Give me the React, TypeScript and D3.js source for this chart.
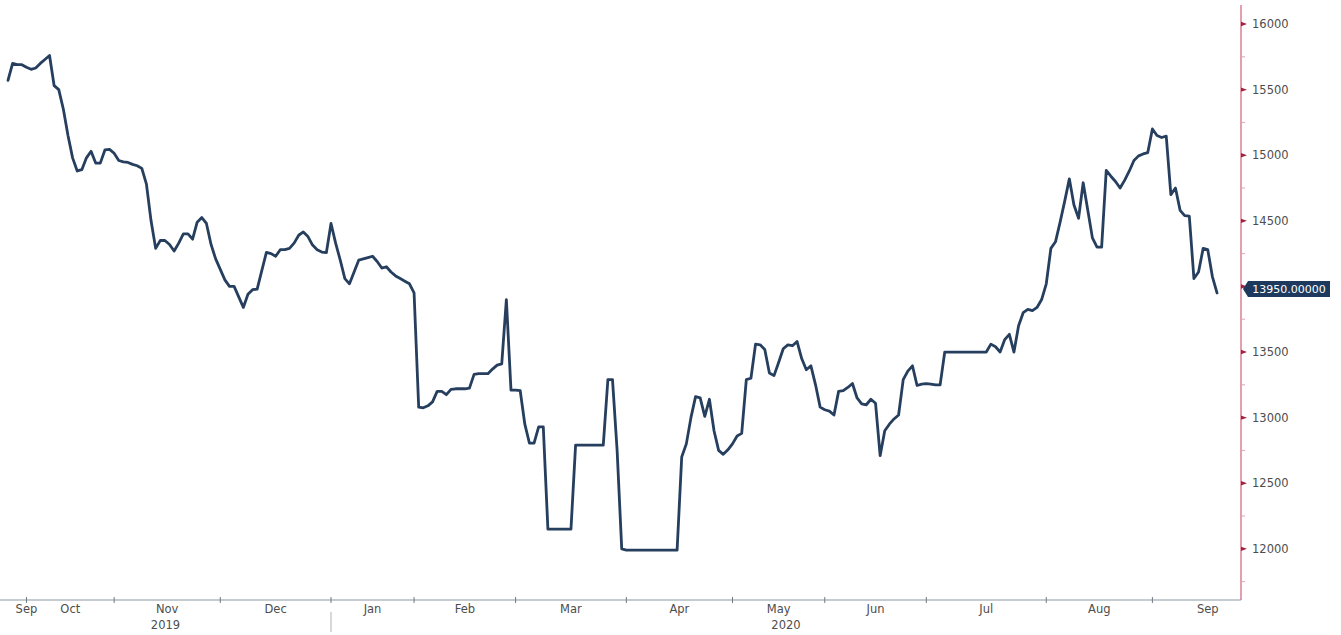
import * as d3 from 'd3'
import * as React from 'react'

//------------------------------data------------------------------
const WIDTH = 1341
const HEIGHT = 635

const monthLabels = ['Sep', 'Oct', 'Nov', 'Dec', 'Jan', 'Feb', 'Mar', 'Apr', 'May', 'Jun', 'Jul', 'Aug', 'Sep']
const yearLabels = ['2019', '2020']
const yearFirstMonth = [0, 4]

// daily closes, one array per month
const sep19 = [15570, 15700, 15690, 15690]
const oct19 = [15670, 15655, 15665, 15700, 15730, 15760, 15530, 15500, 15350, 15150, 14980, 14880, 14890, 14980, 15030, 14940, 14940, 15040, 15045]
const nov19 = [15015, 14960, 14950, 14945, 14930, 14920, 14900, 14780, 14500, 14290, 14350, 14350, 14320, 14270, 14330, 14400, 14400, 14360, 14490, 14525, 14480, 14320, 14210]
const dec19 = [14130, 14050, 14000, 14000, 13920, 13840, 13940, 13975, 13980, 14120, 14260, 14250, 14230, 14280, 14280, 14290, 14330, 14390, 14415, 14380, 14315, 14280, 14262, 14258]
const jan20 = [14480, 14330, 14200, 14060, 14020, 14110, 14200, 14210, 14220, 14230, 14190, 14140, 14150, 14110, 14080, 14060, 14040, 14020]
const feb20 = [13950, 13080, 13075, 13090, 13120, 13200, 13200, 13175, 13215, 13220, 13220, 13220, 13225, 13330, 13335, 13335, 13335, 13370, 13400, 13410, 13900, 13210]
const mar20 = [13210, 13205, 12950, 12805, 12805, 12930, 12930, 12150, 12150, 12150, 12150, 12150, 12150, 12790, 12790, 12790, 12790, 12790, 12790, 12790, 13290, 13290, 12750, 12000]
const apr20 = [11990, 11990, 11990, 11990, 11990, 11990, 11990, 11990, 11990, 11990, 11990, 11990, 12700, 12800, 13000, 13160, 13150, 13010, 13140, 12900, 12750, 12720, 12755]
const may20 = [12800, 12860, 12880, 13290, 13300, 13560, 13555, 13520, 13340, 13320, 13420, 13525, 13555, 13548, 13580, 13450, 13365, 13395, 13250, 13080]
const jun20 = [13060, 13050, 13020, 13200, 13205, 13230, 13260, 13150, 13105, 13098, 13140, 13110, 12710, 12900, 12950, 12990, 13020, 13290, 13355, 13395, 13245, 13255]
const jul20 = [13260, 13255, 13250, 13250, 13500, 13500, 13500, 13500, 13500, 13500, 13500, 13500, 13500, 13500, 13560, 13540, 13500, 13595, 13635, 13500, 13700, 13800, 13825, 13815, 13840, 13900]
const aug20 = [14020, 14290, 14340, 14490, 14650, 14820, 14620, 14520, 14790, 14580, 14370, 14300, 14300, 14885, 14840, 14800, 14750, 14810, 14880, 14960, 14995, 15010, 15020]
const sep20 = [15200, 15150, 15135, 15145, 14700, 14750, 14580, 14540, 14535, 14060, 14110, 14290, 14280, 14075, 13950]

const monthValues = [sep19, oct19, nov19, dec19, jan20, feb20, mar20, apr20, may20, jun20, jul20, aug20, sep20]
const yMajorTicks = [12000, 12500, 13000, 13500, 14000, 14500, 15000, 15500, 16000]
const lastLabel = '13950.00000'

const FONT = '"DejaVu Sans", sans-serif'
const LINE_COLOR = '#263f5e'
const AXIS_RED = '#d46a86'

//------------------------------Component------------------------------
export default function App() {
  const prices = monthValues.flat()
  const monthStart: number[] = []
  monthValues.reduce((acc, m) => {
    monthStart.push(acc)
    return acc + m.length
  }, 0)
  const lastIdx = prices.length - 1

  const x = d3.scaleLinear().domain([0, lastIdx]).range([8, 1217])
  const y = d3.scaleLinear().domain([11610, 16145]).range([600, 5])
  const axisY = y(11610)
  const axisX = 1241

  const linePath = d3
    .line<number>()
    .x((_, i) => x(i))
    .y(d => y(d))(prices) as string

  const minorTicks = d3.range(11750, 16145, 250).filter(v => v % 500 !== 0)

  const labelX = (m: number) => {
    if (m === 0) return x(monthStart[1])
    if (m === monthValues.length - 1) return x(lastIdx - 2)
    return x((monthStart[m] + monthStart[m + 1]) / 2)
  }

  const yearSpans = yearFirstMonth.map((m, k) => {
    const start = m === 0 ? 0 : x(monthStart[m])
    const end = k < yearFirstMonth.length - 1 ? x(monthStart[yearFirstMonth[k + 1]]) : axisX
    return { start, end, label: yearLabels[k] }
  })

  const lastY = y(prices[lastIdx]) - 4
  // tick labels hidden under the last-value box are not drawn
  const hiddenByBox = (v: number) => Math.abs(y(v) - lastY) < 12

  return (
    <svg
      width={WIDTH}
      height={HEIGHT}
      style={{ position: 'absolute', left: 0, top: 0, background: '#fff' }}
      fontFamily={FONT}
    >
      {/* x axis */}
      <line x1={0} x2={axisX} y1={axisY} y2={axisY} stroke="#8a97a4" strokeWidth={1.2} />
      {monthStart.slice(1).map((s, i) => (
        <line key={'xt' + i} x1={x(s)} x2={x(s)} y1={axisY - 3} y2={axisY + 3} stroke="#6d7883" strokeWidth={1} />
      ))}
      {monthLabels.map((lab, m) => (
        <text key={'ml' + m} x={labelX(m)} y={axisY + 13} textAnchor="middle" fontSize={11.5} fill="#4d4d4d">
          {lab}
        </text>
      ))}
      {yearSpans.map((ys, k) => (
        <text key={'yl' + k} x={(ys.start + ys.end) / 2} y={axisY + 29} textAnchor="middle" fontSize={11.5} fill="#4d4d4d">
          {ys.label}
        </text>
      ))}
      {yearSpans.slice(1).map((ys, k) => (
        <line key={'yd' + k} x1={ys.start} x2={ys.start} y1={axisY + 12} y2={axisY + 32} stroke="#b0b0b0" strokeWidth={1} />
      ))}

      {/* right y axis */}
      <line x1={axisX} x2={axisX} y1={y(16145)} y2={axisY} stroke={AXIS_RED} strokeWidth={1.3} />
      {minorTicks.map(v => (
        <line key={'mt' + v} x1={axisX} x2={axisX + 4} y1={y(v)} y2={y(v)} stroke="#e3a3b3" strokeWidth={1} />
      ))}
      {yMajorTicks.map(v => (
        <g key={'yt' + v}>
          <path
            d={`M${axisX},${y(v) - 2.2}L${axisX + 6},${y(v)}L${axisX},${y(v) + 2.2}Z`}
            fill="#a3223f"
          />
          {!hiddenByBox(v) && (
            <text x={axisX + 11} y={y(v)} dy="0.36em" fontSize={11.5} fill="#4d4d4d">
              {v}
            </text>
          )}
        </g>
      ))}

      {/* series */}
      <path d={linePath} fill="none" stroke={LINE_COLOR} strokeWidth={2.8} strokeLinejoin="round" strokeLinecap="round" />

      {/* last value label */}
      <path
        d={`M${axisX + 2},${lastY}L${axisX + 7},${lastY - 8}L${axisX + 89},${lastY - 8}L${axisX + 89},${lastY + 8}L${axisX + 7},${lastY + 8}Z`}
        fill="#1d3a5e"
      />
      <text x={axisX + 48} y={lastY} dy="0.36em" textAnchor="middle" fontSize={11} fill="#ffffff">
        {lastLabel}
      </text>
    </svg>
  )
}
